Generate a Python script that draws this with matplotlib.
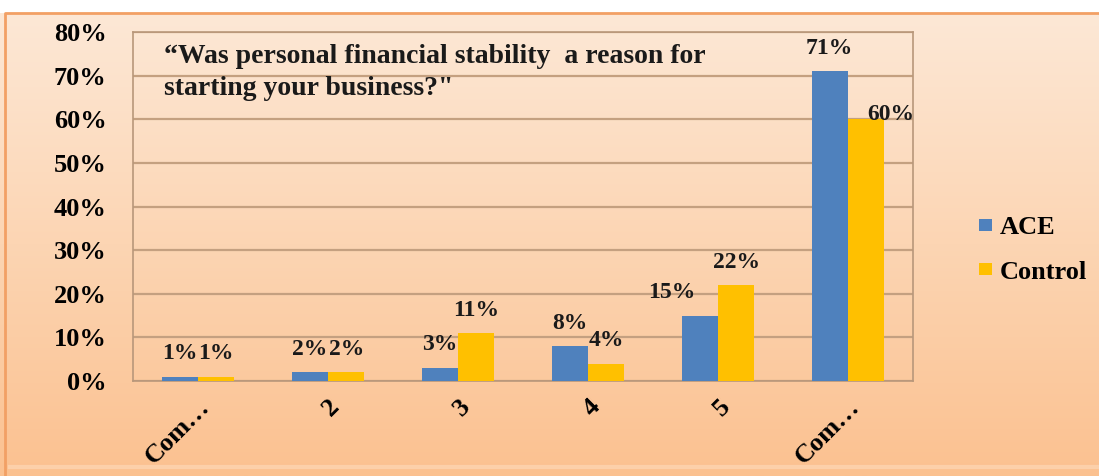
import numpy as np
import matplotlib.pyplot as plt
from matplotlib.colors import LinearSegmentedColormap

categories = ['Com\u2026', '2', '3', '4', '5', 'Com\u2026']
ace = [1, 2, 3, 8, 15, 71]
control = [1, 2, 11, 4, 22, 60]
series_names = ['ACE', 'Control']
yticks = [0, 10, 20, 30, 40, 50, 60, 70, 80]

blue = '#4F81BD'
gold = '#FFC000'
grid_color = '#C4A080'
font = 'Liberation Serif'

# a couple of data labels sit off-centre so they don't crowd the bars
label_nudge = {(0, 4): (-20, 0), (1, 5): (18, -13)}

fig = plt.figure(figsize=(10.99, 4.76), dpi=100)

# peach gradient panel behind everything
bg = fig.add_axes([0, 0, 1, 1], zorder=-10)
grad = np.linspace(0, 1, 256).reshape(-1, 1)
cmap = LinearSegmentedColormap.from_list('peach', ['#FDE8D6', '#FCD5B3', '#FBC190'])
bg.imshow(grad, aspect='auto', cmap=cmap, extent=[0, 1, 0, 1 - 13 / 476], origin='upper')
bg.plot([5 / 1099, 5 / 1099, 1], [0, 1 - 13 / 476, 1 - 13 / 476], color='#F2A065', lw=2)
bg.plot([10 / 1099, 1], [9 / 476, 9 / 476], color='#FCD0AA', lw=3)
bg.set_xlim(0, 1)
bg.set_ylim(0, 1)
bg.axis('off')

ax = fig.add_axes([133 / 1099, 1 - 381 / 476, 780 / 1099, 349 / 476])
ax.patch.set_alpha(0)

x = np.arange(len(categories))
w = 0.28
b1 = ax.bar(x - w / 2, ace, w, color=blue, label=series_names[0], zorder=3)
b2 = ax.bar(x + w / 2, control, w, color=gold, label=series_names[1], zorder=3)

for si, (bars, vals) in enumerate(((b1, ace), (b2, control))):
    for ci, (rect, v) in enumerate(zip(bars, vals)):
        dx, dy = label_nudge.get((si, ci), (0, 0))
        ax.annotate(f'{v}%', (rect.get_x() + rect.get_width() / 2, v),
                    xytext=(dx, 9 + dy), textcoords='offset points', ha='center', va='bottom',
                    fontsize=17, fontweight='bold', family=font, color='#1a1a1a', zorder=4)

ax.set_xlim(-0.5, len(categories) - 0.5)
ax.set_ylim(0, 80)
ax.set_yticks(yticks)
ax.set_yticklabels([f'{t}%' for t in yticks], fontsize=19, fontweight='bold', family=font)
ax.set_xticks(x)
ax.set_xticklabels(categories, rotation=45, ha='right', rotation_mode='anchor',
                   fontsize=19, fontweight='bold', family=font)
ax.tick_params(length=0)
ax.tick_params(axis='y', pad=19)
ax.tick_params(axis='x', pad=10)
ax.yaxis.grid(True, color=grid_color, lw=1.6, zorder=0)
for s in ax.spines.values():
    s.set_color('#B8977A')
    s.set_linewidth(1.2)

ax.text(0.04, 0.965, '\u201cWas personal financial stability  a reason for\nstarting your business?"',
        transform=ax.transAxes, ha='left', va='top', fontsize=20, fontweight='bold',
        family=font, color='#1a1a1a', linespacing=1.35)

fig.legend(handles=[b1, b2], loc='center left', bbox_to_anchor=(955 / 1099, 1 - 250 / 476),
           frameon=False, prop={'family': font, 'weight': 'bold', 'size': 19},
           handlelength=0.5, handleheight=0.35, handletextpad=0.3, labelspacing=0.8)

fig.savefig('out.png', dpi=100)
